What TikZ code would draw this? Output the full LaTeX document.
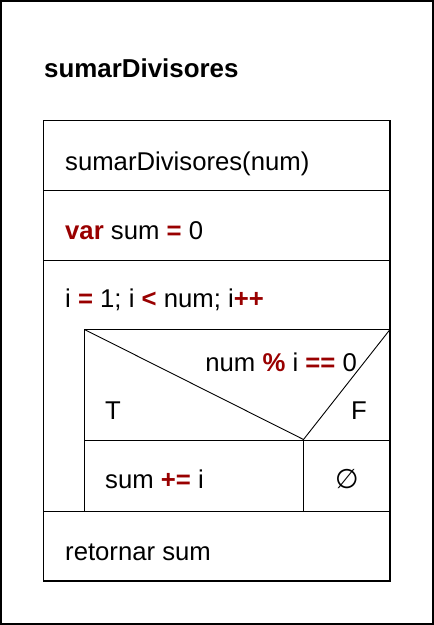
\documentclass[tikz,border=0pt]{standalone}
\usepackage{fontspec}
\setmainfont{Liberation Sans}
\newfontfamily\symfont{DejaVu Sans}
\definecolor{kw}{HTML}{990000}
\newcommand\op[1]{\textcolor{kw}{\textbf{#1}}}
\begin{document}
\begin{tikzpicture}[x=1pt,y=-1pt,
  txt/.style={anchor=base west, inner sep=0pt, font=\fontsize{25.7}{30}\selectfont},
  rtxt/.style={anchor=base east, inner sep=0pt, font=\fontsize{25.7}{30}\selectfont},
  ctxt/.style={anchor=base, inner sep=0pt, font=\fontsize{25.7}{30}\selectfont},
  frame/.style={draw=black, line width=2pt},
  box/.style={draw=black, line width=1.3pt},
  diag/.style={draw=black, line width=0.9pt}]
\useasboundingbox (0,0) rectangle (434,625);
\draw[frame] (1,1) rectangle (433,624);
\node[txt, font=\fontsize{25.9}{30}\selectfont\bfseries] (title) at (44,77) {sumarDivisores};
% main structure
\draw[box] (43.5,120.5) rectangle (390,581);
\draw[box] (43.5,190.5) -- (390,190.5);
\draw[box] (43.5,260.5) -- (390,260.5);
\draw[box] (43.5,511.5) -- (390,511.5);
\draw[box] (84.5,329.5) rectangle (390,511.5);
\draw[box] (84.5,440.5) -- (390,440.5);
\draw[box] (303.5,440.5) -- (303.5,511.5);
\draw[diag] (84.5,329.5) -- (303.5,439.5) -- (390,329.5);
% texts
\node[txt] (head) at (65,170) {sumarDivisores(num)};
\node[txt] (decl) at (65,239) {\op{var} sum \op{=} 0};
\node[txt] (loop) at (65,307) {i \op{=} 1; i \op{<} num; i\op{++}};
\node[rtxt] (cond) at (357,371) {num \op{\%} i \op{==} 0};
\node[txt] (tlab) at (105,419) {T};
\node[rtxt] (flab) at (367,419) {F};
\node[txt] (body) at (105,488) {sum \op{+=} i};
\node[ctxt, font=\fontsize{27}{30}\selectfont\symfont] (empty) at (347,488) {∅};
\node[txt] (ret) at (65,560) {retornar sum};
\end{tikzpicture}
\end{document}
